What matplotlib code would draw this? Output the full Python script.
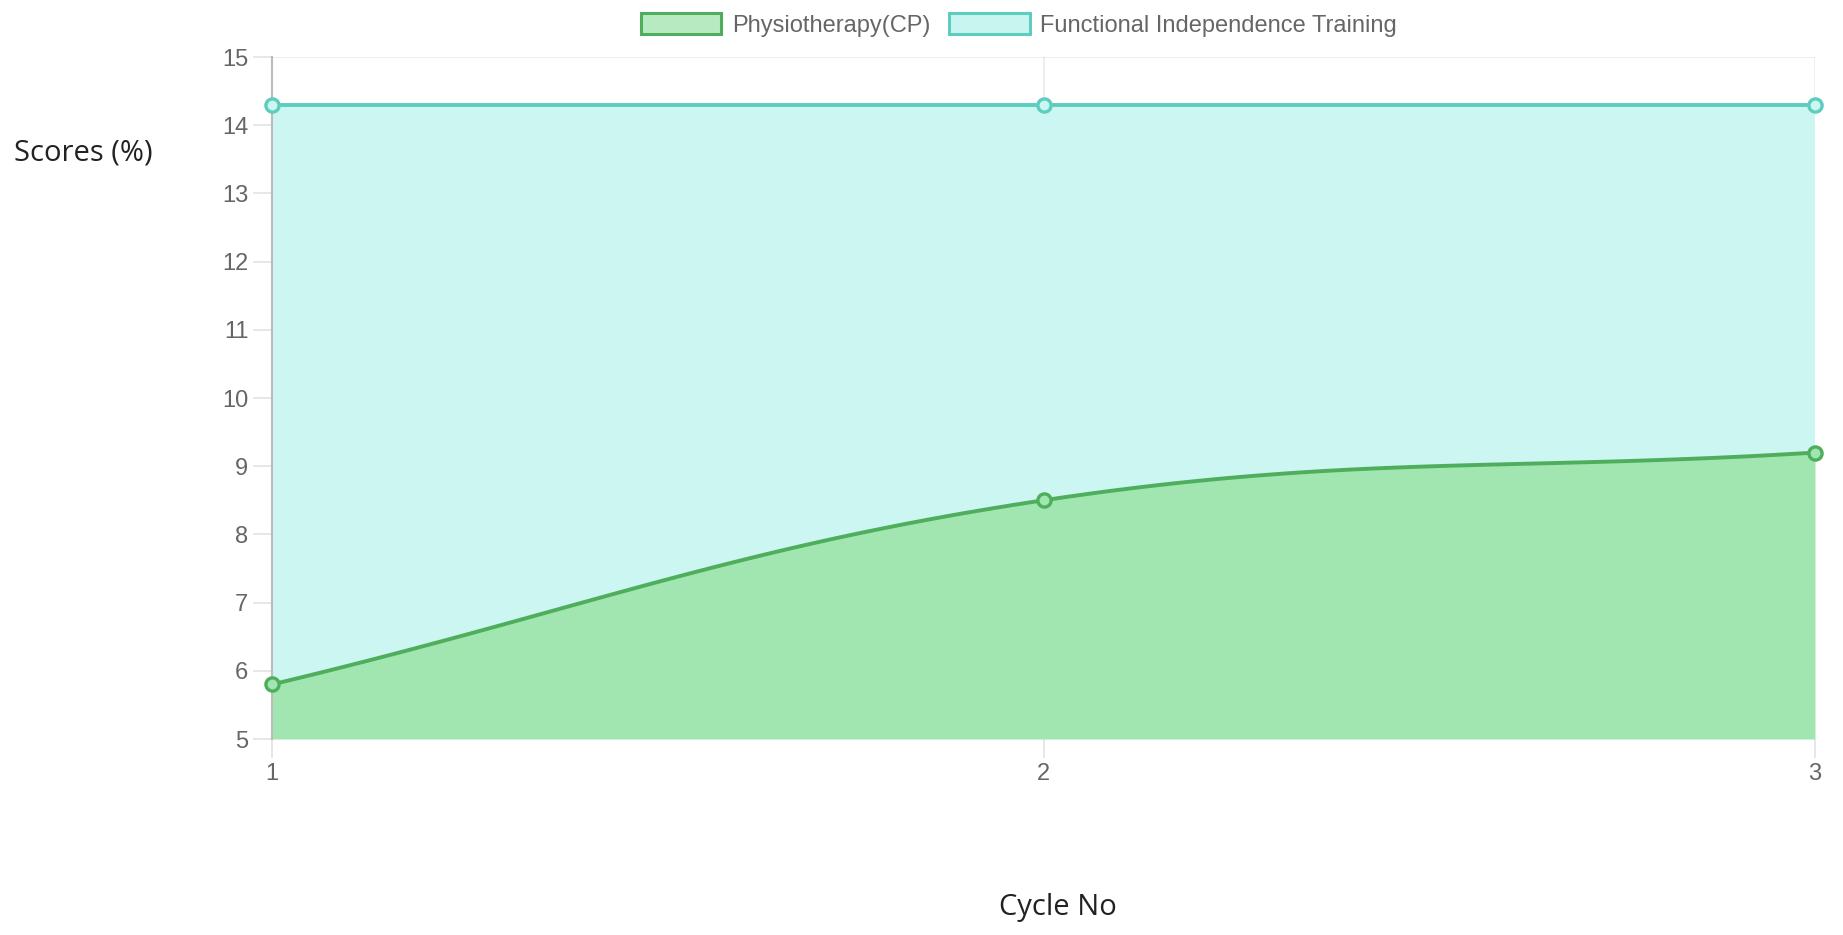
import numpy as np
import matplotlib
matplotlib.use("Agg")
import matplotlib.pyplot as plt
from matplotlib.patches import Patch

# data
cycles = [1, 2, 3]
physio = [5.8, 8.5, 9.2]
fit = [14.3, 14.3, 14.3]
series_names = ["Physiotherapy(CP)", "Functional Independence Training"]
y_ticks = [5, 6, 7, 8, 9, 10, 11, 12, 13, 14, 15]

green_line = "#4fae5b"
green_fill = "#a1e5b1"
cyan_line = "#5ccdbe"
cyan_fill = "#cbf6f1"
tick_col = "#666666"


# chart.js style bezier (tension 0.4), computed in pixel space
def smooth(ax, xs, ys, t=0.4, n=60):
    pts = ax.transData.transform(np.column_stack([xs, ys]))
    out = [pts[0]]
    k = len(pts)
    ctrl = []
    for i in range(k):
        prev = pts[max(i - 1, 0)]
        cur = pts[i]
        nxt = pts[min(i + 1, k - 1)]
        d01 = np.hypot(*(cur - prev))
        d12 = np.hypot(*(nxt - cur))
        tot = d01 + d12
        s01 = d01 / tot if tot else 0
        s12 = d12 / tot if tot else 0
        c_prev = cur - t * s01 * (nxt - prev)
        c_next = cur + t * s12 * (nxt - prev)
        ctrl.append((c_prev, c_next))
    u = np.linspace(0, 1, n)[:, None]
    for i in range(k - 1):
        p0 = pts[i]
        p1 = ctrl[i][1]
        p2 = ctrl[i + 1][0]
        p3 = pts[i + 1]
        seg = ((1 - u) ** 3) * p0 + 3 * ((1 - u) ** 2) * u * p1 + 3 * (1 - u) * u ** 2 * p2 + u ** 3 * p3
        out.extend(seg[1:])
    out = np.array(out)
    return ax.transData.inverted().transform(out).T


fig = plt.figure(figsize=(18.43, 9.35), dpi=100)
ax = fig.add_axes([272 / 1843, 1 - 739 / 935, (1815 - 272) / 1843, (739 - 57) / 935])
ax.set_xlim(1, 3)
ax.set_ylim(5, 15)

for vals, lc, fc in [(fit, cyan_line, cyan_fill), (physio, green_line, green_fill)]:
    sx, sy = smooth(ax, cycles, vals)
    ax.fill_between(sx, 5, sy, color=fc, lw=0, zorder=2)
    ax.plot(sx, sy, color=lc, lw=2.8, zorder=4, solid_capstyle="round")
    ax.plot(cycles, vals, "o", ms=9.5, mfc=fc, mec=lc, mew=2.4, zorder=5, clip_on=False)

ax.set_xticks(cycles)
ax.set_xticklabels([str(c) for c in cycles])
ax.set_yticks(y_ticks)
ax.grid(True, color="#000000", alpha=0.08, lw=1.2, zorder=3)
for s in ["top", "right", "bottom"]:
    ax.spines[s].set_visible(False)
ax.spines["left"].set_color("#bbbbbb")
ax.spines["left"].set_linewidth(1.5)
ax.tick_params(axis="both", length=14, width=1.2, color="#e3e3e3", labelcolor=tick_col,
               labelsize=17, pad=3)
for lab in ax.get_xticklabels() + ax.get_yticklabels():
    lab.set_family("Liberation Sans")

fig.text(14 / 1843, 1 - 153 / 935, "Scores (%)", fontsize=21, family="Open Sans",
         color="#222222", va="center", ha="left")
fig.text(1058 / 1843, 1 - 908 / 935, "Cycle No", fontsize=21, family="Open Sans",
         color="#222222", va="center", ha="center")

handles = [Patch(facecolor="#b8eac1", edgecolor=green_line, lw=2.2),
           Patch(facecolor="#c9f5f0", edgecolor=cyan_line, lw=2.2)]
leg = fig.legend(handles, series_names, loc="center", bbox_to_anchor=(1019 / 1843, 1 - 25 / 935),
                 ncol=2, frameon=False, handlelength=3.4, handleheight=1.0,
                 handletextpad=0.45, columnspacing=0.8,
                 prop={"family": "Liberation Sans", "size": 17})
for t in leg.get_texts():
    t.set_color(tick_col)

fig.savefig("out.png", dpi=100)
